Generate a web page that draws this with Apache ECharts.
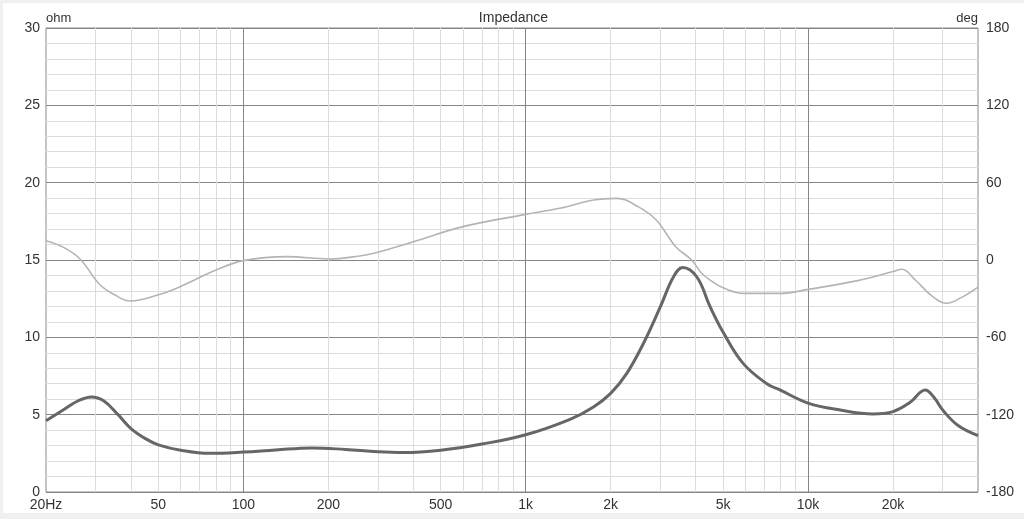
<!DOCTYPE html>
<html>
<head>
<meta charset="utf-8">
<script src="https://cdn.jsdelivr.net/npm/echarts@6/dist/echarts.min.js"></script>
<style>
html,body{margin:0;padding:0;background:#f0f0f0;width:1024px;height:519px;overflow:hidden;}
#c{position:absolute;left:3px;top:3px;width:1021px;height:510px;background:#ffffff;}
</style>
</head>
<body>
<div id="c"></div>
<script>
// Frequency axis range (Hz)
const freqMin = 20;
const freqMax = 40000;
// Tick labels on frequency axis
const xLabelFreqs = [20, 50, 100, 200, 500, 1000, 2000, 5000, 10000, 20000];
const xLabelTexts = ['20Hz', '50', '100', '200', '500', '1k', '2k', '5k', '10k', '20k'];
const majorFreqs = [100, 1000, 10000];
const minorFreqs = [30, 40, 50, 60, 70, 80, 90, 200, 300, 400, 500, 600, 700, 800, 900,
  2000, 3000, 4000, 5000, 6000, 7000, 8000, 9000, 20000, 30000];

// Impedance magnitude (ohm)
const impFreqs = [20, 23, 26, 29, 32, 36, 40, 45, 50, 60, 76, 100, 130, 175, 230, 300, 370, 500, 700,
  1000, 1436, 1738, 2000, 2281, 2612, 3000, 3336, 3600, 4040, 4500, 5030, 5900, 7146, 7950,
  10000, 13000, 17000, 20000, 23000, 26000, 28000, 30000, 34000, 40000];
const impOhm = [4.6, 5.3, 5.9, 6.15, 5.9, 5.0, 4.1, 3.45, 3.05, 2.7, 2.5, 2.58, 2.72, 2.85, 2.75, 2.6, 2.55, 2.7, 3.1,
  3.7, 4.7, 5.5, 6.38, 7.67, 9.6, 11.98, 13.9, 14.52, 13.9, 11.98, 10.26, 8.3, 7.0, 6.6,
  5.75, 5.3, 5.05, 5.2, 5.8, 6.6, 6.1, 5.3, 4.3, 3.65];

// Impedance phase (deg)
const phaseFreqs = [20, 23, 26.4, 31, 35, 39.7, 50, 59.7, 80, 100, 143, 201, 258, 290, 400, 600,
  1000, 1320, 1740, 2100, 2500, 2900, 3400, 3870, 4200, 4600, 5000, 5900, 8000,
  10000, 15000, 20000, 21500, 24000, 27500, 31000, 35000, 40000];
const phaseDeg = [15, 10, 0.8, -19, -27, -31.8, -27, -20.7, -7.8, -0.5, 2.6, 0.8, 3.1, 5.2, 14.2, 25.9,
  35.4, 40.1, 46.5, 47.8, 41.4, 31.0, 10.3, 0, -10.3, -17, -21.5, -25.9, -25.9,
  -22.8, -16, -9, -7.2, -15.5, -28, -33.6, -29, -21];

const lg = Math.log10;
const labelMap = {};
xLabelFreqs.forEach((f, i) => { labelMap[f] = xLabelTexts[i]; });

const textColor = '#333333';
const fontFamily = '"Liberation Sans", Arial, sans-serif';

const chart = echarts.init(document.getElementById('c'), null, {renderer: 'canvas'});
chart.setOption({
  animation: false,
  backgroundColor: '#ffffff',
  title: {
    text: 'Impedance',
    left: 'center',
    top: 3,
    textStyle: {fontSize: 14, fontWeight: 'normal', color: textColor, fontFamily: fontFamily}
  },
  grid: {
    left: 43, top: 25, right: 46, bottom: 21,
    show: true, borderColor: '#8a8a8a', borderWidth: 1, backgroundColor: '#ffffff'
  },
  xAxis: [
    {
      type: 'value', min: lg(freqMin), max: lg(freqMax), position: 'bottom',
      axisLine: {show: false}, axisLabel: {show: false},
      axisTick: {show: false, customValues: minorFreqs.map(lg)},
      splitLine: {show: true, lineStyle: {color: '#dcdcdc', width: 1}}
    },
    {
      type: 'value', min: lg(freqMin), max: lg(freqMax), position: 'bottom',
      axisLine: {show: false},
      axisTick: {show: false, customValues: majorFreqs.map(lg)},
      splitLine: {show: true, lineStyle: {color: '#868686', width: 1}},
      axisLabel: {
        show: true, customValues: xLabelFreqs.map(lg), margin: 6,
        color: textColor, fontSize: 14, fontFamily: fontFamily,
        formatter: function (v) { return labelMap[Math.round(Math.pow(10, v))] || ''; }
      }
    }
  ],
  yAxis: [
    {
      type: 'value', min: 0, max: 30, interval: 5, position: 'left',
      name: 'ohm', nameLocation: 'end', nameGap: 3,
      nameTextStyle: {align: 'left', verticalAlign: 'bottom', color: textColor, fontSize: 13, fontFamily: fontFamily},
      axisLine: {show: false}, axisTick: {show: false},
      axisLabel: {color: textColor, fontSize: 14, margin: 6, fontFamily: fontFamily},
      splitLine: {show: true, lineStyle: {color: '#868686', width: 1}},
      minorTick: {show: false, splitNumber: 5},
      minorSplitLine: {show: true, lineStyle: {color: '#dcdcdc', width: 1}}
    },
    {
      type: 'value', min: -180, max: 180, interval: 60, position: 'right',
      name: 'deg', nameLocation: 'end', nameGap: 3,
      nameTextStyle: {align: 'right', verticalAlign: 'bottom', color: textColor, fontSize: 13, fontFamily: fontFamily},
      axisLine: {show: false}, axisTick: {show: false},
      axisLabel: {color: textColor, fontSize: 14, margin: 8, fontFamily: fontFamily},
      splitLine: {show: false}
    }
  ],
  series: [
    {
      name: 'Phase', type: 'line', xAxisIndex: 1, yAxisIndex: 1,
      data: phaseFreqs.map((f, i) => [lg(f), phaseDeg[i]]),
      smooth: 0.4, symbol: 'none',
      lineStyle: {color: '#b4b4b4', width: 1.6}, z: 2
    },
    {
      name: 'Impedance', type: 'line', xAxisIndex: 1, yAxisIndex: 0,
      data: impFreqs.map((f, i) => [lg(f), impOhm[i]]),
      smooth: 0.4, symbol: 'none',
      lineStyle: {color: '#666666', width: 3}, z: 3
    }
  ]
});
</script>
</body>
</html>
